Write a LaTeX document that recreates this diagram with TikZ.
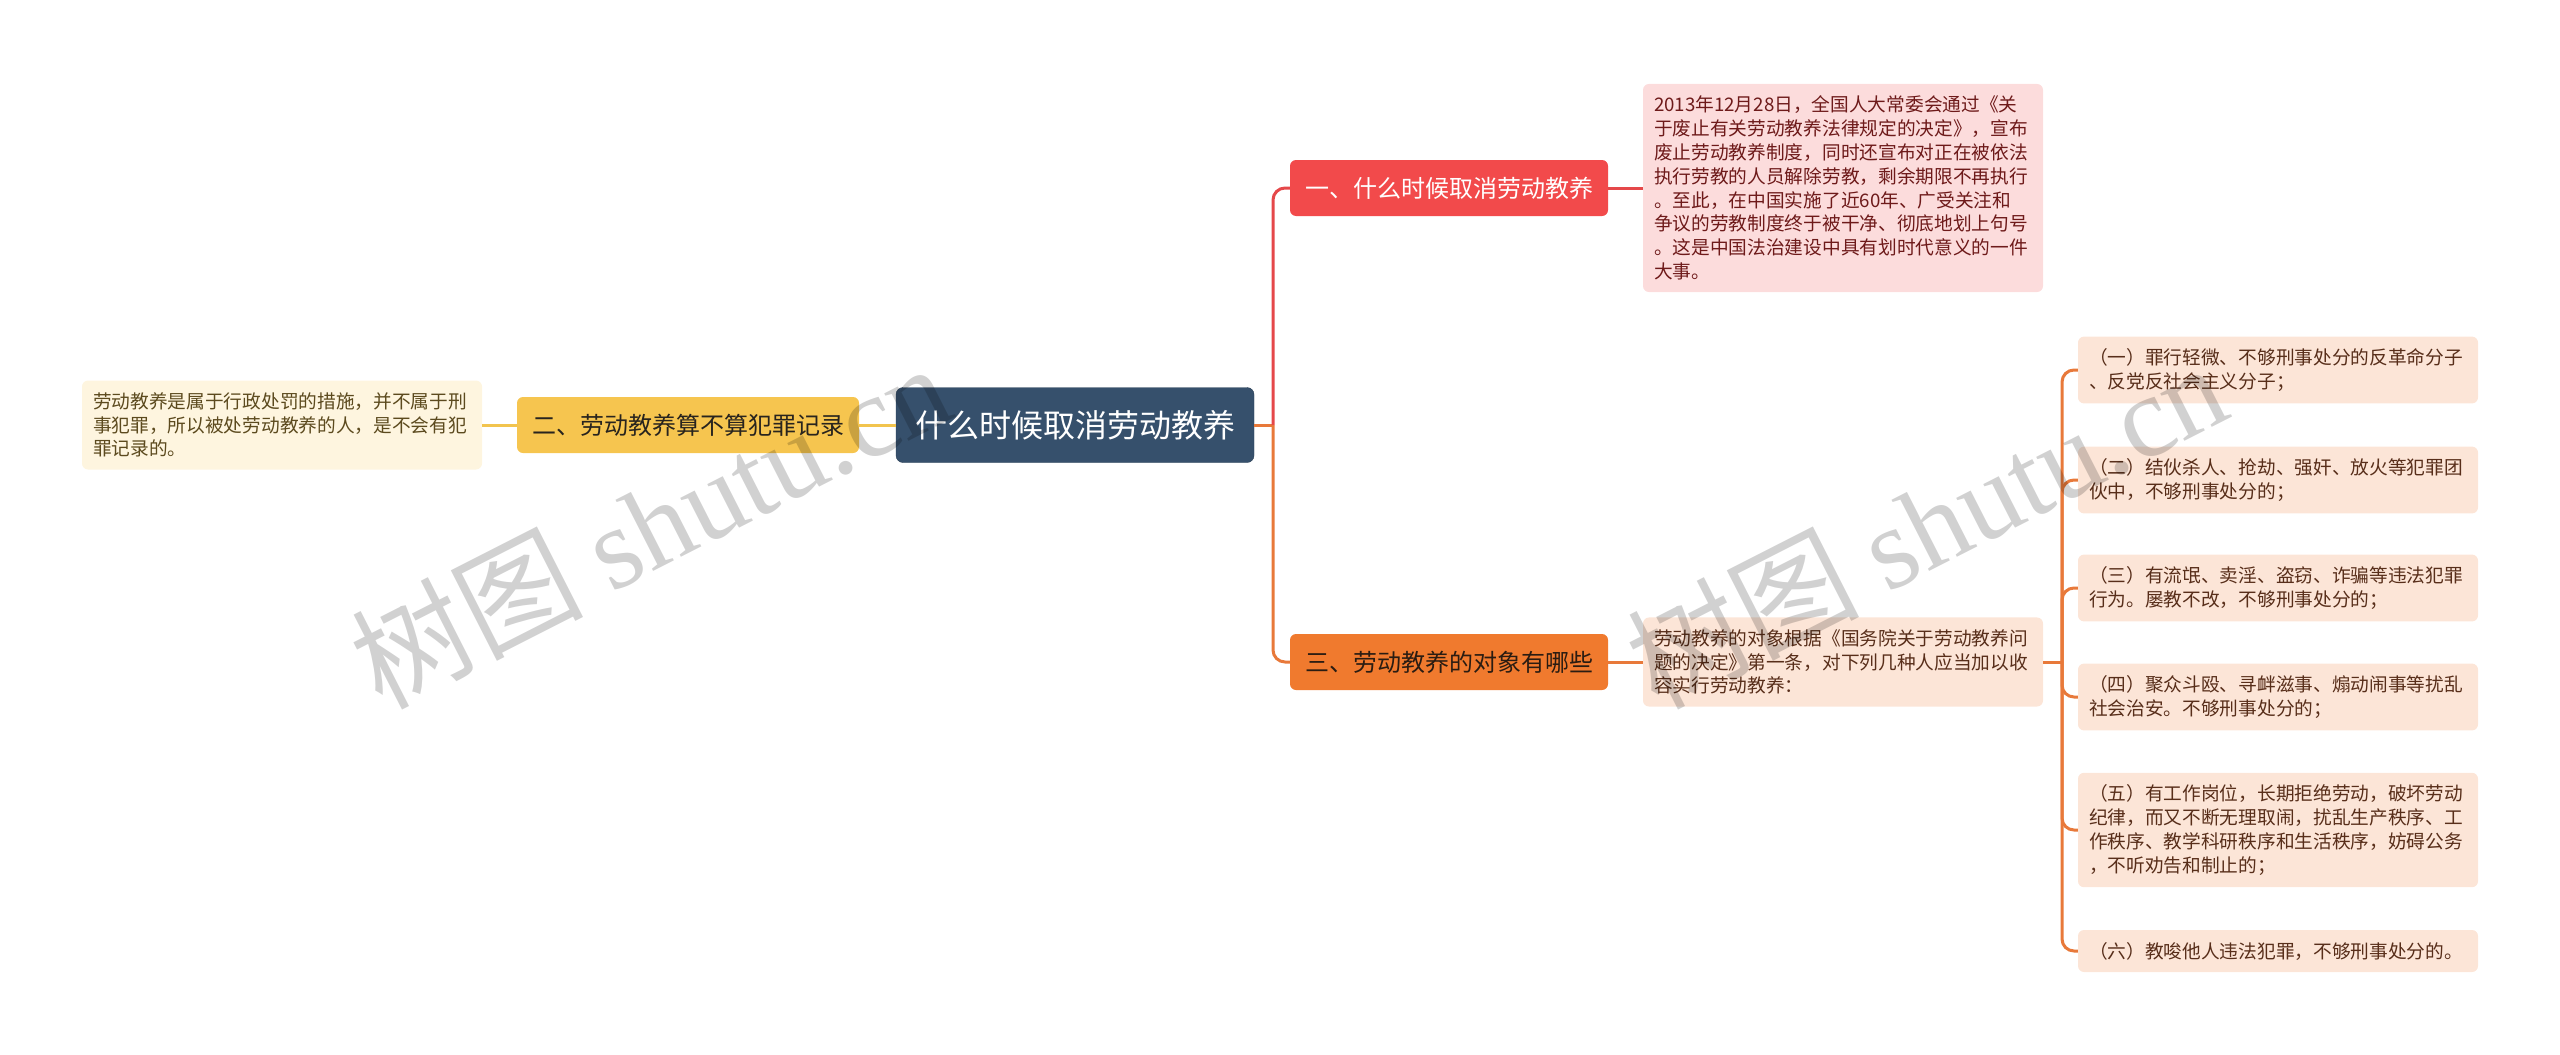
\documentclass[tikz,border=0pt]{standalone}
\usepackage{fontspec}
\setmainfont{Noto Sans CJK SC}
\newfontfamily\wmfont{Liberation Serif}
\definecolor{rootblue}{HTML}{36506C}
\definecolor{topicred}{HTML}{F24A4B}
\definecolor{topicyellow}{HTML}{F6C54F}
\definecolor{topicorange}{HTML}{F07A2E}
\definecolor{notered}{HTML}{FCDCDC}
\definecolor{noteyellow}{HTML}{FEF5DF}
\definecolor{noteorange}{HTML}{FCE5D7}
\definecolor{linkred}{HTML}{E5484A}
\definecolor{linkyellow}{HTML}{F2C44E}
\definecolor{linkorange}{HTML}{E8793A}

\begin{document}
\begin{tikzpicture}[x=1pt,y=-1pt,
 root/.style ={fill=rootblue,draw=rootblue!80!black,rounded corners=7pt,text=white,inner xsep=19pt,minimum height=75pt,font=\fontsize{32pt}{38pt}\selectfont},
 branch/.style ={rounded corners=6pt,inner xsep=15pt,minimum height=56pt,font=\fontsize{24pt}{29pt}\selectfont},
 note/.style ={rounded corners=6pt,text width=378pt,align=left,inner xsep=11pt,inner ysep=12pt,font=\fontsize{18.7pt}{23.8pt}\selectfont},
 link/.style ={-,line width=3pt,rounded corners=12pt},
 watermark/.style ={text=black,text opacity=0.18,rotate=27,font=\fontsize{116pt}{116pt}\selectfont}
 ]
\useasboundingbox (0,0) rectangle (2560,1055);
%draw root
\node[root] (root) at (1075,425) {什么时候取消劳动教养};
%draw branch one
\node[branch,fill=topicred,text=white] (one) at (1449,188) {一、什么时候取消劳动教养};
\node[note,fill=notered,text={rgb,255:red,110;green,26;blue,26}] (onetext) at (1843,188) {2013年12月28日，全国人大常委会通过《关\\于废止有关劳动教养法律规定的决定》，宣布\\废止劳动教养制度，同时还宣布对正在被依法\\执行劳教的人员解除劳教，剩余期限不再执行\\。至此，在中国实施了近60年、广受关注和\\争议的劳教制度终于被干净、彻底地划上句号\\。这是中国法治建设中具有划时代意义的一件\\大事。};
%draw branch two
\node[branch,fill=topicyellow,text={rgb,255:red,40;green,36;blue,30}] (two) at (688,425) {二、劳动教养算不算犯罪记录};
\node[note,fill=noteyellow,text={rgb,255:red,92;green,74;blue,30}] (twotext) at (282,425) {劳动教养是属于行政处罚的措施，并不属于刑\\事犯罪，所以被处劳动教养的人，是不会有犯\\罪记录的。};
%draw branch three
\node[branch,fill=topicorange,text={rgb,255:red,42;green,28;blue,18}] (three) at (1449,662) {三、劳动教养的对象有哪些};
\node[note,fill=noteorange,text={rgb,255:red,88;green,46;blue,26}] (threetext) at (1843,662) {劳动教养的对象根据《国务院关于劳动教养问\\题的决定》第一条，对下列几种人应当加以收\\容实行劳动教养：};
%draw the six groups
\tikzset{item/.style ={note,fill=noteorange,text={rgb,255:red,88;green,46;blue,26}}}
\node[item] (s1) at (2278,370) {（一）罪行轻微、不够刑事处分的反革命分子\\、反党反社会主义分子；};
\node[item] (s2) at (2278,480) {（二）结伙杀人、抢劫、强奸、放火等犯罪团\\伙中，不够刑事处分的；};
\node[item] (s3) at (2278,588) {（三）有流氓、卖淫、盗窃、诈骗等违法犯罪\\行为。屡教不改，不够刑事处分的；};
\node[item] (s4) at (2278,697) {（四）聚众斗殴、寻衅滋事、煽动闹事等扰乱\\社会治安。不够刑事处分的；};
\node[item] (s5) at (2278,830) {（五）有工作岗位，长期拒绝劳动，破坏劳动\\纪律，而又不断无理取闹，扰乱生产秩序、工\\作秩序、教学科研秩序和生活秩序，妨碍公务\\，不听劝告和制止的；};
\node[item] (s6) at (2278,951) {（六）教唆他人违法犯罪，不够刑事处分的。};
%draw links
\coordinate (hub) at (1273,425);
\coordinate (fork) at (2062,662);
\draw[link,draw=linkorange] (root.east) -- (hub);
\draw[link,draw=linkred] (hub) |- (one.west);
\draw[link,draw=linkorange] (hub) |- (three.west);
\draw[link,draw=linkred] (one.east) -- (onetext.west);
\draw[link,draw=linkyellow] (root.west) -- (two.east);
\draw[link,draw=linkyellow] (two.west) -- (twotext.east);
\draw[link,draw=linkorange] (three.east) -- (threetext.west);
\draw[link,draw=linkorange] (threetext.east) -- (fork);
\foreach \s in {s1,s2,s3,s4,s5,s6}
 \draw[link,draw=linkorange] (fork) |- (\s.west);
%draw watermarks
\node[watermark] (mark1) at (650,524) {树图 {\wmfont shutu.cn}};
\node[watermark] (mark2) at (1926,524) {树图 {\wmfont shutu.cn}};
\end{tikzpicture}
\end{document}
